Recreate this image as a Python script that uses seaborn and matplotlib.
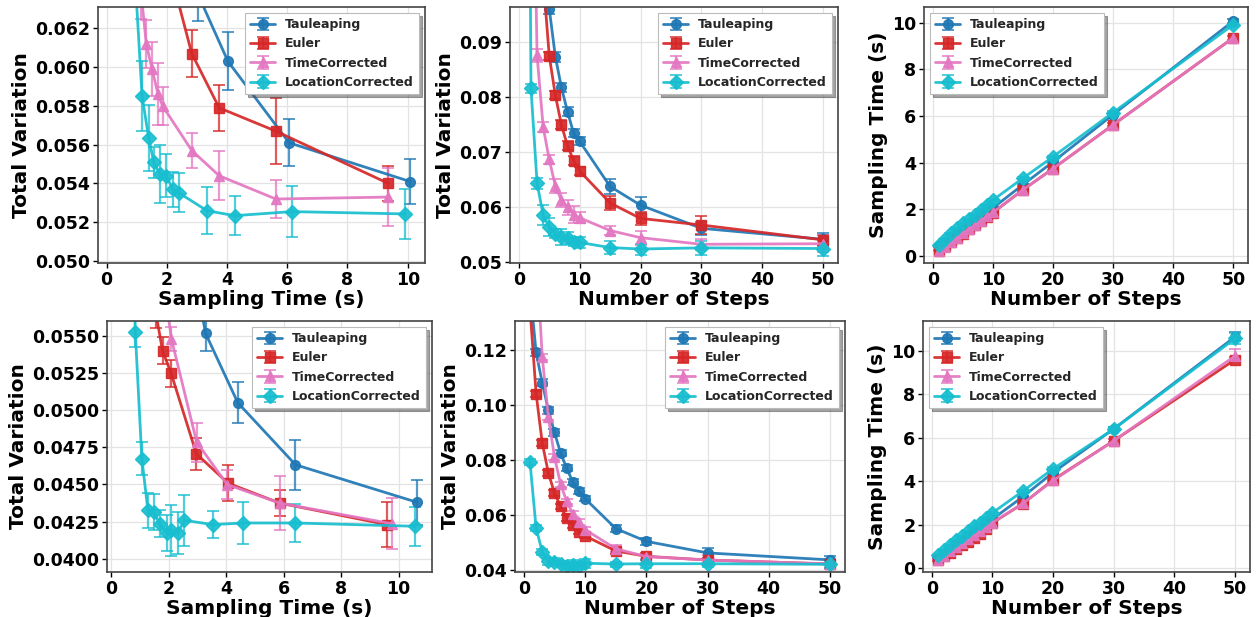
import numpy as np
import matplotlib
matplotlib.use("Agg")
import matplotlib.pyplot as plt
import seaborn as sns

# ---------------------------------------------------------------------------
# Data
# ---------------------------------------------------------------------------
steps = [1, 2, 3, 4, 5, 6, 7, 8, 9, 10, 15, 20, 30, 50]
methods = ["Tauleaping", "Euler", "TimeCorrected", "LocationCorrected"]

# Experiment 1 (top row): total variation (mean, std) and sampling time (mean, std)
tv1_tau = [0.400, 0.220, 0.140, 0.110, 0.0960, 0.0873, 0.0817, 0.0773, 0.0734, 0.0719, 0.0637, 0.0603, 0.0561, 0.0541]
tv1_eul = [0.350, 0.200, 0.130, 0.1015, 0.0874, 0.0803, 0.0749, 0.0711, 0.0684, 0.0665, 0.0607, 0.0579, 0.0567, 0.0540]
tv1_tc = [0.320, 0.150, 0.0875, 0.0745, 0.0686, 0.0638, 0.0612, 0.0599, 0.0586, 0.0580, 0.0557, 0.0544, 0.0532, 0.0533]
tv1_lc = [0.250, 0.0815, 0.0643, 0.0585, 0.05635, 0.0551, 0.0545, 0.0544, 0.0537, 0.05353, 0.0526, 0.05234, 0.05255, 0.05243]

tv1_tau_sd = [0.003, 0.002, 0.0015, 0.0012, 0.0009, 0.0009, 0.0008, 0.0008, 0.0008, 0.0007, 0.0013, 0.0015, 0.0012, 0.00115]
tv1_eul_sd = [0.003, 0.002, 0.0015, 0.0012, 0.0008, 0.0008, 0.0008, 0.0008, 0.0008, 0.0008, 0.0012, 0.0012, 0.0017, 0.0009]
tv1_tc_sd = [0.003, 0.002, 0.0011, 0.0009, 0.0008, 0.0013, 0.00125, 0.0014, 0.0016, 0.0010, 0.0009, 0.00125, 0.0010, 0.0015]
tv1_lc_sd = [0.003, 0.0009, 0.0010, 0.0018, 0.0017, 0.0008, 0.0015, 0.0011, 0.0009, 0.0010, 0.0012, 0.0010, 0.0013, 0.0013]

t1_tau = [0.40, 0.58, 0.76, 0.94, 1.12, 1.31, 1.49, 1.68, 1.86, 2.05, 3.05, 4.03, 6.06, 10.08]
t1_eul = [0.22, 0.40, 0.58, 0.76, 0.95, 1.13, 1.31, 1.49, 1.67, 1.85, 2.83, 3.74, 5.62, 9.36]
t1_tc = [0.21, 0.39, 0.58, 0.77, 0.96, 1.15, 1.32, 1.51, 1.71, 1.86, 2.83, 3.74, 5.62, 9.36]
t1_lc = [0.45, 0.72, 0.96, 1.18, 1.40, 1.57, 1.76, 1.98, 2.20, 2.39, 3.33, 4.25, 6.15, 9.92]

t1_tau_sd = [0.02, 0.02, 0.02, 0.02, 0.02, 0.02, 0.02, 0.02, 0.03, 0.03, 0.04, 0.05, 0.06, 0.10]
t1_eul_sd = [0.02, 0.02, 0.02, 0.02, 0.02, 0.02, 0.02, 0.02, 0.03, 0.03, 0.04, 0.05, 0.06, 0.08]
t1_tc_sd = [0.02, 0.02, 0.02, 0.02, 0.02, 0.02, 0.02, 0.02, 0.03, 0.03, 0.04, 0.05, 0.06, 0.08]
t1_lc_sd = [0.02, 0.02, 0.02, 0.02, 0.02, 0.02, 0.02, 0.02, 0.03, 0.03, 0.04, 0.05, 0.06, 0.08]

# Experiment 2 (bottom row)
tv2_tau = [0.142, 0.119, 0.108, 0.098, 0.090, 0.0825, 0.0770, 0.0720, 0.0688, 0.0660, 0.05516, 0.0505, 0.04632, 0.04379]
tv2_eul = [0.135, 0.104, 0.0862, 0.0753, 0.0680, 0.0632, 0.0589, 0.0565, 0.0540, 0.05247, 0.04705, 0.04508, 0.04374, 0.04229]
tv2_tc = [0.300, 0.157, 0.1174, 0.0956, 0.0811, 0.0712, 0.0650, 0.0604, 0.0575, 0.05478, 0.04784, 0.04499, 0.04374, 0.04235]
tv2_lc = [0.0792, 0.05527, 0.04672, 0.04325, 0.04316, 0.04235, 0.04173, 0.04191, 0.04173, 0.04258, 0.04229, 0.0424, 0.0424, 0.04218]

tv2_tau_sd = [0.002, 0.0012, 0.0012, 0.0012, 0.0012, 0.0011, 0.0011, 0.0011, 0.0011, 0.0010, 0.0012, 0.0014, 0.0017, 0.0015]
tv2_eul_sd = [0.002, 0.0012, 0.0012, 0.0011, 0.0010, 0.0010, 0.0010, 0.0010, 0.0009, 0.0009, 0.0011, 0.0012, 0.0009, 0.0015]
tv2_tc_sd = [0.002, 0.0015, 0.0012, 0.0011, 0.0011, 0.0010, 0.0010, 0.0010, 0.0010, 0.0008, 0.0013, 0.0010, 0.0018, 0.0017]
tv2_lc_sd = [0.0010, 0.0010, 0.0011, 0.0012, 0.0012, 0.0009, 0.0012, 0.0017, 0.0014, 0.0017, 0.0009, 0.0014, 0.0013, 0.0013]

t2_tau = [0.45, 0.65, 0.85, 1.05, 1.25, 1.45, 1.65, 1.85, 2.05, 2.25, 3.28, 4.40, 6.41, 10.65]
t2_eul = [0.36, 0.53, 0.70, 0.87, 1.04, 1.21, 1.38, 1.55, 1.78, 2.08, 2.96, 4.06, 5.86, 9.60]
t2_tc = [0.38, 0.57, 0.76, 0.95, 1.13, 1.32, 1.52, 1.71, 1.90, 2.09, 2.97, 4.03, 5.86, 9.77]
t2_lc = [0.60, 0.83, 1.06, 1.27, 1.47, 1.68, 1.92, 2.09, 2.31, 2.54, 3.54, 4.57, 6.40, 10.57]

t2_tau_sd = [0.02, 0.02, 0.02, 0.02, 0.02, 0.02, 0.02, 0.03, 0.03, 0.03, 0.05, 0.06, 0.08, 0.20]
t2_eul_sd = [0.02, 0.02, 0.02, 0.02, 0.02, 0.02, 0.02, 0.03, 0.03, 0.03, 0.05, 0.06, 0.08, 0.10]
t2_tc_sd = [0.02, 0.02, 0.02, 0.02, 0.02, 0.02, 0.02, 0.03, 0.03, 0.03, 0.05, 0.06, 0.08, 0.30]
t2_lc_sd = [0.02, 0.02, 0.02, 0.02, 0.02, 0.02, 0.02, 0.03, 0.03, 0.03, 0.05, 0.06, 0.08, 0.25]

rows = [
    dict(tv=[tv1_tau, tv1_eul, tv1_tc, tv1_lc], tv_sd=[tv1_tau_sd, tv1_eul_sd, tv1_tc_sd, tv1_lc_sd],
         t=[t1_tau, t1_eul, t1_tc, t1_lc], t_sd=[t1_tau_sd, t1_eul_sd, t1_tc_sd, t1_lc_sd],
         ylim_time=(0.0499, 0.0631), ylim_steps=(0.0498, 0.0963)),
    dict(tv=[tv2_tau, tv2_eul, tv2_tc, tv2_lc], tv_sd=[tv2_tau_sd, tv2_eul_sd, tv2_tc_sd, tv2_lc_sd],
         t=[t2_tau, t2_eul, t2_tc, t2_lc], t_sd=[t2_tau_sd, t2_eul_sd, t2_tc_sd, t2_lc_sd],
         ylim_time=(0.0391, 0.0560), ylim_steps=(0.0394, 0.1304)),
]

# ---------------------------------------------------------------------------
# Style
# ---------------------------------------------------------------------------
sns.set_theme(style="whitegrid")
plt.rcParams.update({
    "font.family": ["DejaVu Sans"],
    "font.weight": "bold",
    "axes.labelweight": "bold",
    "axes.labelsize": 14.5,
    "xtick.labelsize": 12.5,
    "ytick.labelsize": 12.5,
    "axes.edgecolor": "#444444",
    "axes.linewidth": 1.2,
    "grid.color": "#e3e3e3",
    "grid.linewidth": 0.9,
    "xtick.bottom": True,
    "ytick.left": True,
    "xtick.major.size": 3.5,
    "ytick.major.size": 3.5,
    "xtick.color": "black",
    "ytick.color": "black",
    "axes.labelcolor": "black",
})

palette = sns.color_palette(["#1f77b4", "#d62728", "#e377c2", "#17becf"])
markers = ["o", "s", "^", "D"]

W, H = 1260, 617
# axes boxes in pixels: (left, top, right, bottom)
boxes = [
    [(98, 7, 425, 263), (510, 7, 838, 263), (924, 7, 1248, 263)],
    [(107, 321, 432, 572), (515, 321, 845, 572), (923, 321, 1250, 572)],
]


def draw(ax, xs, ys, sds, legend_loc):
    for name, x, y, sd, c, m in zip(methods, xs, ys, sds, palette, markers):
        cont = ax.errorbar(x, y, yerr=sd, label=name, color=c, marker=m, markersize=7,
                           linewidth=2, elinewidth=1.6, capsize=4, capthick=1.4)
        cont[0].set_alpha(0.92)
        for cap in cont[1]:
            cap.set_alpha(0.75)
        for bar in cont[2]:
            bar.set_alpha(0.75)
    leg = ax.legend(loc=legend_loc, frameon=True, shadow=True, fancybox=False,
                    prop={"weight": "bold", "size": 9})
    leg.get_frame().set_edgecolor("#bbbbbb")
    leg.get_frame().set_linewidth(0.8)


fig = plt.figure(figsize=(W / 100, H / 100), dpi=100)
axes = [[fig.add_axes([l / W, 1 - b / H, (r - l) / W, (b - t) / H]) for (l, t, r, b) in rb] for rb in boxes]

for r, row in enumerate(rows):
    ax_time, ax_steps, ax_cost = axes[r]

    draw(ax_time, row["t"], row["tv"], row["tv_sd"], "upper right")
    ax_time.set_ylim(*row["ylim_time"])
    ax_time.set_xlabel("Sampling Time (s)")
    ax_time.set_ylabel("Total Variation")

    draw(ax_steps, [steps] * 4, row["tv"], row["tv_sd"], "upper right")
    ax_steps.set_ylim(*row["ylim_steps"])
    ax_steps.set_xlabel("Number of Steps")
    ax_steps.set_ylabel("Total Variation")

    draw(ax_cost, [steps] * 4, row["t"], row["t_sd"], "upper left")
    ax_cost.set_xlabel("Number of Steps")
    ax_cost.set_ylabel("Sampling Time (s)")

for row_axes in axes:
    for ax in row_axes:
        for s in ax.spines.values():
            s.set_visible(True)
            s.set_color("#444444")
        ax.tick_params(axis="both", which="major", length=3.5, width=1, pad=2)
        ax.xaxis.labelpad = 1
        ax.yaxis.labelpad = 3

fig.savefig("out.png", dpi=100)
